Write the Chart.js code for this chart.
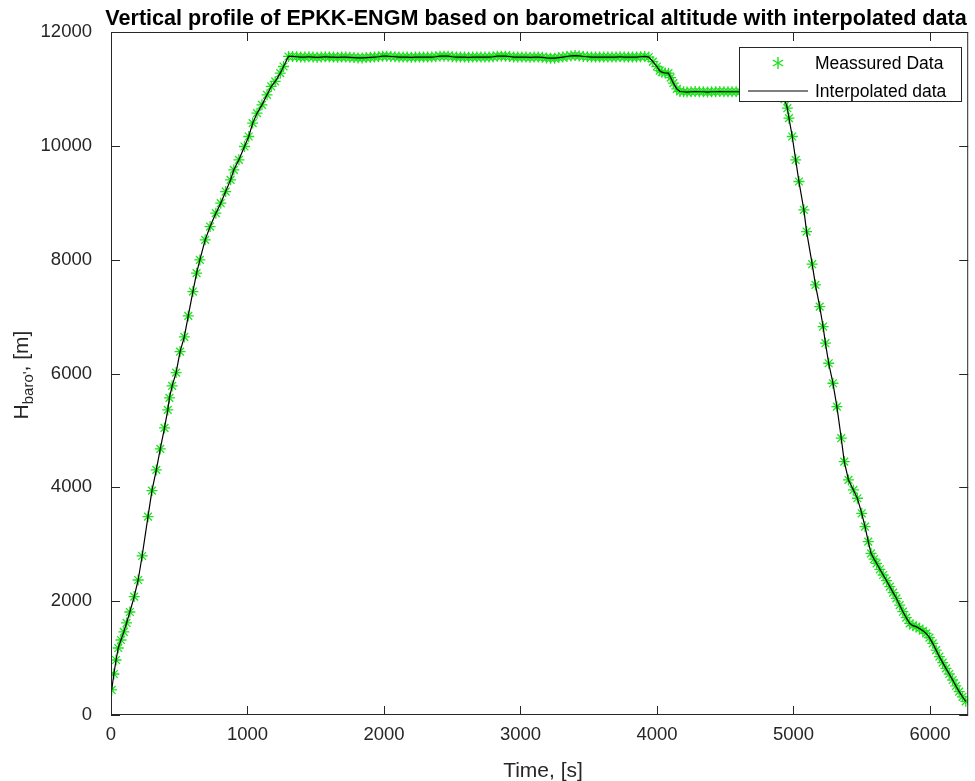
<!DOCTYPE html>
<html>
<head>
<meta charset="utf-8">
<script src="https://cdn.jsdelivr.net/npm/chart.js"></script>
<style>
  body { margin: 0; background: #fff; }
  #wrap { width: 975px; height: 781px; }
</style>
</head>
<body>
<div id="wrap"><canvas id="myChart" width="975" height="781"></canvas></div>
<script>
// flight EPKK-ENGM, time [s] vs barometric altitude [m]
const climbTime = [5, 21, 37, 53, 73, 94, 114, 138, 170, 199,
  228, 271, 300, 332, 361, 392, 416, 428, 448, 477,
  506, 537, 566, 600, 627, 651, 690, 726, 768, 804,
  840, 876, 900, 937, 978, 1009, 1038, 1070, 1106, 1143,
  1174, 1203, 1240, 1264, 1300];
const climbAlt = [440, 720, 966, 1177, 1318, 1460, 1617, 1810, 2080, 2372,
  2794, 3485, 3942, 4306, 4675, 5044, 5360, 5571, 5782, 6016,
  6385, 6643, 7012, 7440, 7763, 7996, 8348, 8582, 8817, 8992,
  9197, 9402, 9578, 9754, 9988, 10164, 10399, 10574, 10720, 10896,
  11043, 11131, 11277, 11394, 11570];

const cruiseTime = [1330, 1360, 1390, 1420, 1450, 1480, 1510, 1540, 1570, 1600,
  1630, 1660, 1690, 1720, 1750, 1780, 1810, 1840, 1870, 1900,
  1930, 1960, 1990, 2020, 2050, 2080, 2110, 2140, 2170, 2200,
  2230, 2260, 2290, 2320, 2350, 2380, 2410, 2440, 2470, 2500,
  2530, 2560, 2590, 2620, 2650, 2680, 2710, 2740, 2770, 2800,
  2830, 2860, 2890, 2920, 2950, 2980, 3010, 3040, 3070, 3100,
  3130, 3160, 3190, 3220, 3250, 3280, 3310, 3340, 3370, 3400,
  3430, 3460, 3490, 3520, 3550, 3580, 3610, 3640, 3670, 3700,
  3730, 3760, 3790, 3820, 3850, 3880, 3910];
const cruiseAlt = [11570, 11565, 11560, 11560, 11565, 11560, 11555, 11560, 11565, 11560,
  11560, 11555, 11560, 11560, 11555, 11550, 11545, 11545, 11550, 11555,
  11560, 11565, 11575, 11575, 11570, 11565, 11560, 11560, 11560, 11555,
  11560, 11560, 11560, 11560, 11560, 11565, 11575, 11575, 11575, 11565,
  11560, 11560, 11560, 11555, 11560, 11560, 11560, 11560, 11560, 11565,
  11575, 11575, 11575, 11570, 11560, 11560, 11560, 11560, 11555, 11560,
  11560, 11555, 11545, 11540, 11540, 11550, 11560, 11570, 11580, 11585,
  11580, 11570, 11565, 11560, 11560, 11560, 11560, 11560, 11560, 11560,
  11565, 11560, 11560, 11560, 11560, 11565, 11570];

const stepTime = [3940, 3970, 3999, 4020, 4036, 4060, 4084, 4100, 4120, 4145,
  4168, 4195, 4220, 4250, 4280, 4310, 4340, 4370, 4400, 4430,
  4460, 4490, 4520, 4550, 4580, 4610, 4640, 4670, 4700, 4730,
  4760, 4790, 4820, 4850, 4880, 4910];
const stepAlt = [11560, 11480, 11394, 11320, 11295, 11280, 11277, 11200, 11101, 11000,
  10955, 10950, 10945, 10950, 10955, 10950, 10950, 10945, 10950, 10950,
  10955, 10950, 10950, 10950, 10950, 10950, 10950, 10950, 10955, 10950,
  10950, 10950, 10950, 10950, 10945, 10940];

const descentTime = [4935, 4955, 4967, 4991, 5016, 5040, 5076, 5096, 5137, 5161,
  5192, 5217, 5234, 5258, 5289, 5318, 5350, 5372, 5403, 5439,
  5468, 5500, 5524, 5548, 5568, 5590, 5609, 5633, 5657, 5682,
  5706, 5730, 5754, 5778, 5802, 5826, 5851, 5875, 5899, 5923,
  5948, 5972, 5996, 6020, 6045, 6069, 6093, 6117, 6141, 6166,
  6190, 6214, 6238, 6262];
const descentAlt = [10820, 10661, 10486, 10164, 9754, 9373, 8875, 8494, 7920, 7557,
  7176, 6825, 6532, 6180, 5829, 5418, 4863, 4452, 4130, 3954,
  3808, 3544, 3310, 3046, 2840, 2740, 2665, 2560, 2460, 2360,
  2255, 2150, 2050, 1930, 1815, 1710, 1611, 1570, 1552, 1520,
  1480, 1435, 1360, 1259, 1140, 1025, 920, 820, 720, 615,
  510, 410, 320, 240];

const xTicks = [0, 1000, 2000, 3000, 4000, 5000, 6000];
const yTicks = [0, 2000, 4000, 6000, 8000, 10000, 12000];

const titleText = 'Vertical profile of EPKK-ENGM based on barometrical altitude with interpolated data';
const legendLabels = ['Meassured Data', 'Interpolated data'];

const timeS = [...climbTime, ...cruiseTime, ...stepTime, ...descentTime];
const altM = [...climbAlt, ...cruiseAlt, ...stepAlt, ...descentAlt];
const points = timeS.map((t, i) => ({ x: t, y: altM[i] }));

const FONT = '"Liberation Sans", Arial, sans-serif';
const AXIS = '#262626';
const GREEN = 'rgb(30,225,30)';

// box, inward ticks, titles and legend, drawn like the matlab figure
const matlabAxes = {
  id: 'matlabAxes',
  afterDraw(chart) {
    const { ctx, chartArea: a, scales: { x, y } } = chart;
    ctx.save();
    ctx.strokeStyle = AXIS;
    ctx.lineWidth = 1;
    ctx.strokeRect(a.left + 0.5, a.top + 0.5, a.right - a.left - 1, a.bottom - a.top - 1);

    const tl = 9;
    ctx.beginPath();
    xTicks.forEach(v => {
      const px = Math.round(x.getPixelForValue(v)) + 0.5;
      ctx.moveTo(px, a.bottom); ctx.lineTo(px, a.bottom - tl);
      ctx.moveTo(px, a.top); ctx.lineTo(px, a.top + tl);
    });
    yTicks.forEach(v => {
      const py = Math.round(y.getPixelForValue(v)) + 0.5;
      ctx.moveTo(a.left, py); ctx.lineTo(a.left + tl, py);
      ctx.moveTo(a.right, py); ctx.lineTo(a.right - tl, py);
    });
    ctx.stroke();

    // title
    ctx.fillStyle = '#000';
    ctx.font = 'bold 21.6px ' + FONT;
    ctx.textAlign = 'center';
    ctx.textBaseline = 'alphabetic';
    ctx.fillText(titleText, 536, 25);

    // x label
    ctx.fillStyle = AXIS;
    ctx.font = '21px ' + FONT;
    ctx.fillText('Time, [s]', 543, 777);

    // y label with subscript
    ctx.save();
    ctx.translate(28, 375);
    ctx.rotate(-Math.PI / 2);
    ctx.textAlign = 'left';
    const big = '21px ' + FONT, small = '15px ' + FONT;
    ctx.font = big; const wH = ctx.measureText('H').width;
    ctx.font = small; const wSub = ctx.measureText("baro'").width;
    ctx.font = big; const wEnd = ctx.measureText(', [m]').width;
    let sx = -(wH + wSub + wEnd) / 2;
    ctx.font = big; ctx.fillText('H', sx, 0); sx += wH;
    ctx.font = small; ctx.fillText("baro'", sx, 5); sx += wSub;
    ctx.font = big; ctx.fillText(', [m]', sx, 0);
    ctx.restore();

    // legend
    const lx = 739.5, ly = 47.5, lw = 222, lh = 54;
    ctx.fillStyle = '#fff';
    ctx.fillRect(lx, ly, lw, lh);
    ctx.strokeStyle = AXIS;
    ctx.strokeRect(lx, ly, lw, lh);
    // asterisk marker
    ctx.strokeStyle = GREEN;
    ctx.lineWidth = 1.4;
    const cx = 778, cy = 63, r = 6;
    ctx.beginPath();
    for (let k = 0; k < 3; k++) {
      const ang = Math.PI / 2 + k * Math.PI / 3;
      ctx.moveTo(cx + r * Math.cos(ang), cy + r * Math.sin(ang));
      ctx.lineTo(cx - r * Math.cos(ang), cy - r * Math.sin(ang));
    }
    ctx.stroke();
    ctx.strokeStyle = '#000';
    ctx.lineWidth = 1.2;
    ctx.beginPath();
    ctx.moveTo(748, 91); ctx.lineTo(808, 91);
    ctx.stroke();
    ctx.fillStyle = '#000';
    ctx.font = '17.5px ' + FONT;
    ctx.textAlign = 'left';
    ctx.textBaseline = 'middle';
    ctx.fillText(legendLabels[0], 815, 64);
    ctx.fillText(legendLabels[1], 815, 92);
    ctx.restore();
  }
};

Chart.defaults.font.family = FONT;

const config = {
  type: 'scatter',
  data: {
    datasets: [
      {
        label: legendLabels[1],
        data: points,
        showLine: true,
        borderColor: '#000',
        borderWidth: 1.2,
        pointRadius: 0,
        tension: 0,
        order: 0
      },
      {
        label: legendLabels[0],
        data: points,
        showLine: false,
        pointStyle: 'star',
        pointRadius: 5.5,
        pointBorderWidth: 1.3,
        pointBorderColor: GREEN,
        pointBackgroundColor: GREEN,
        order: 1
      }
    ]
  },
  options: {
    responsive: false,
    animation: false,
    layout: { padding: { top: 32, right: 3, left: 0, bottom: 0 } },
    plugins: {
      legend: { display: false },
      title: { display: false },
      tooltip: { enabled: false }
    },
    scales: {
      x: {
        type: 'linear',
        min: 0,
        max: 6280,
        grid: { display: false },
        border: { display: false },
        afterFit: s => { s.height = 66; },
        afterBuildTicks: s => { s.ticks = xTicks.map(v => ({ value: v })); },
        ticks: {
          padding: 1,
          color: AXIS,
          font: { size: 18.5 },
          maxRotation: 0,
          callback: v => String(v)
        }
      },
      y: {
        type: 'linear',
        min: 0,
        max: 12000,
        grid: { display: false },
        border: { display: false },
        afterFit: s => { s.width = 111; },
        afterBuildTicks: s => { s.ticks = yTicks.map(v => ({ value: v })); },
        ticks: {
          padding: 11,
          color: AXIS,
          font: { size: 18.5 },
          callback: v => String(v)
        }
      }
    }
  },
  plugins: [matlabAxes]
};

new Chart(document.getElementById('myChart'), config);
</script>
</body>
</html>
